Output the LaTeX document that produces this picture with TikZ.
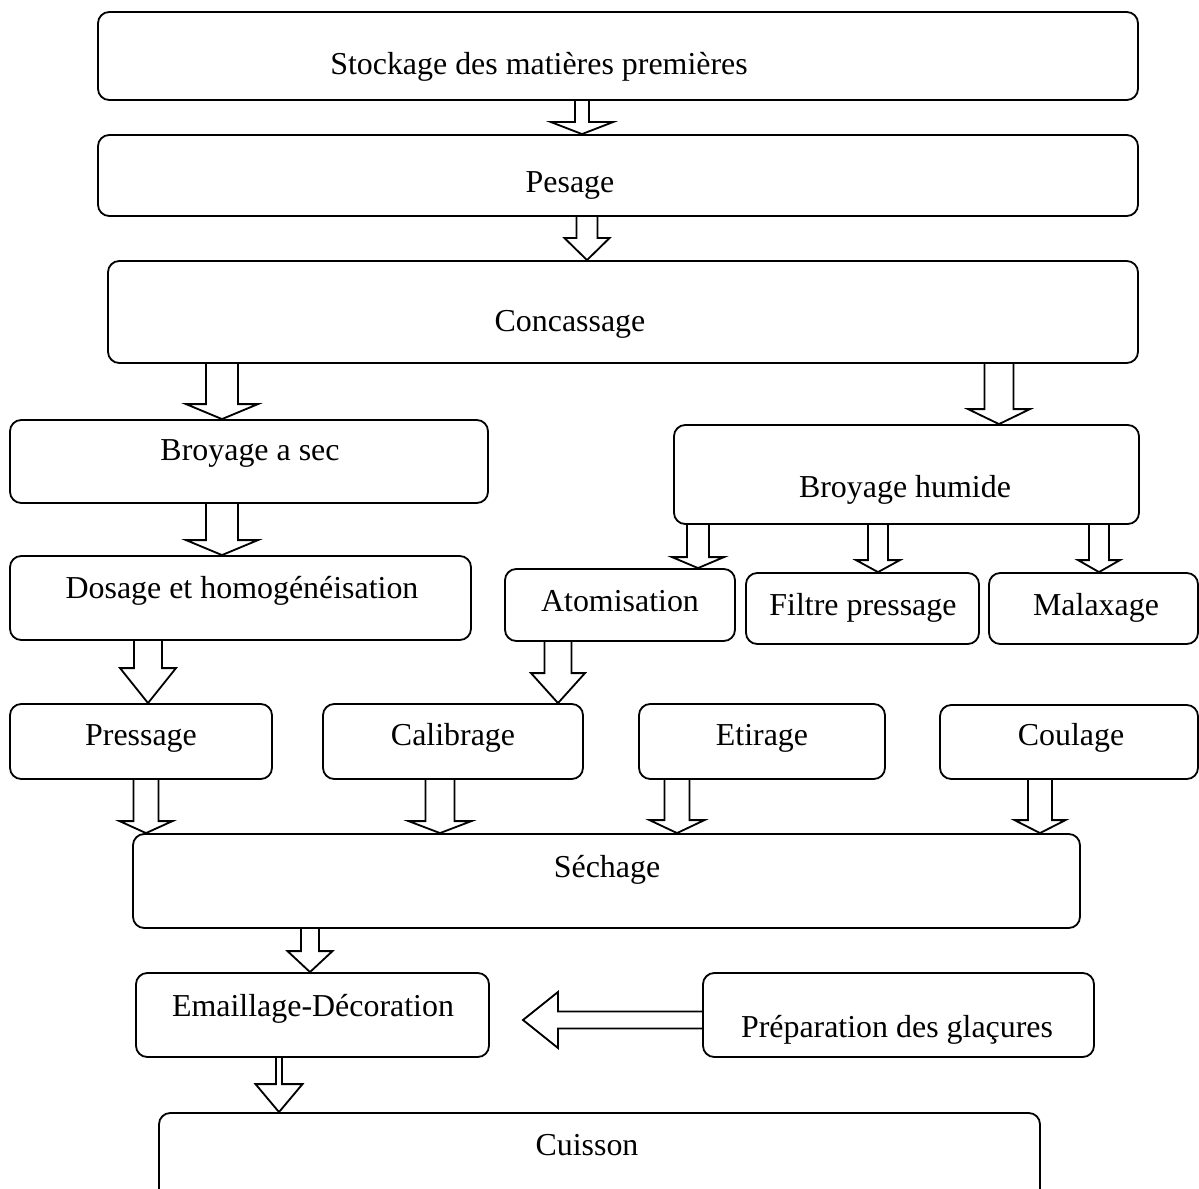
\documentclass[tikz,border=0pt]{standalone}
\usepackage{fontspec}
\setmainfont{Liberation Serif}
\usetikzlibrary{fit, calc}

\begin{document}
\begin{tikzpicture}[
  x=0.025cm, y=-0.025cm,
  font=\fontsize{22.7}{27}\selectfont,
  box/.style = {draw, rounded corners=8pt, line width=1.3pt, inner sep=0pt},
  lbl/.style = {anchor=base, inner sep=0pt},
  blk/.style = {draw, line width=1.3pt, line join=miter},
]
\useasboundingbox (0,0) rectangle (1199,1189);

% ── Boxes ─────────────────────────────────────────────────────────────────────
\node[box, fit={(98,12)   (1138,100)}]  (stock) {};
\node[box, fit={(98,135)  (1138,216)}]  (pes)   {};
\node[box, fit={(108,261) (1138,363)}]  (conc)  {};
\node[box, fit={(10,420)  (488,503)}]   (bsec)  {};
\node[box, fit={(674,425) (1139,524)}]  (bhum)  {};
\node[box, fit={(10,556)  (471,640)}]   (dos)   {};
\node[box, fit={(505,569) (735,641)}]   (atom)  {};
\node[box, fit={(746,573) (979,644)}]   (filt)  {};
\node[box, fit={(989,573) (1198,644)}]  (malax) {};
\node[box, fit={(10,704)  (272,779)}]   (press) {};
\node[box, fit={(323,704) (583,779)}]   (calib) {};
\node[box, fit={(639,704) (885,779)}]   (etir)  {};
\node[box, fit={(940,705) (1198,779)}]  (coul)  {};
\node[box, fit={(133,834) (1080,928)}]  (sech)  {};
\node[box, fit={(136,973) (489,1057)}]  (emai)  {};
\node[box, fit={(703,973) (1094,1057)}] (prep)  {};
\node[box, fit={(159,1113) (1040,1205)}] (cuis) {};

% ── Labels ────────────────────────────────────────────────────────────────────
\node[lbl] (stock-l) at (539,75)   {Stockage des matières premières};
\node[lbl] (pes-l)   at (570,193)  {Pesage};
\node[lbl] (conc-l)  at (570,331)  {Concassage};
\node[lbl] (bsec-l)  at (250,460)  {Broyage a sec};
\node[lbl] (bhum-l)  at (905,497)  {Broyage humide};
\node[lbl] (dos-l)   at (242,598)  {Dosage et homogénéisation};
\node[lbl] (atom-l)  at (620,611)  {Atomisation};
\node[lbl] (filt-l)  at (863,615)  {Filtre pressage};
\node[lbl] (malax-l) at (1096,615) {Malaxage};
\node[lbl] (press-l) at (141,745)  {Pressage};
\node[lbl] (calib-l) at (453,745)  {Calibrage};
\node[lbl] (etir-l)  at (762,745)  {Etirage};
\node[lbl] (coul-l)  at (1071,745) {Coulage};
\node[lbl] (sech-l)  at (607,877)  {Séchage};
\node[lbl] (emai-l)  at (313,1016) {Emaillage-Décoration};
\node[lbl] (prep-l)  at (897,1037) {Préparation des glaçures};
\node[lbl] (cuis-l)  at (587,1155) {Cuisson};

% ── Block arrows (down) ───────────────────────────────────────────────────────
\foreach \x/\a/\b/\w/\h/\l in {582/stock/pes/7/31/12, 587/pes/conc/10.5/22.5/22,
    222/conc/bsec/16/36/15, 999/conc/bhum/14.5/31/15, 222/bsec/dos/16/36/15,
    698/bhum/atom/11/26/11, 878/bhum/filt/10/22/12, 1099/bhum/malax/10/21/12,
    558/atom/calib/13.5/27/30, 148/dos/press/14/28/35,
    146/press/sech/12.5/26.5/12, 440/calib/sech/14.5/31.5/12,
    677/etir/sech/12.5/27.5/13, 1040/coul/sech/12/25.5/13,
    310/sech/emai/9/22.5/21, 279/emai/cuis/3/23.5/28}{
  \coordinate (s) at (\x,0 |- \a.south);
  \coordinate (t) at (\x,0 |- \b.north);
  \draw[blk] ($(s)+(-\w,0)$) -- ($(t)+(-\w,-\l)$) -- ($(t)+(-\h,-\l)$) -- (t)
    -- ($(t)+(\h,-\l)$) -- ($(t)+(\w,-\l)$) -- ($(s)+(\w,0)$);
}

% ── Glaze arrow (left) ────────────────────────────────────────────────────────
\coordinate (gl-tip) at (523,1020);
\coordinate (gl-src) at (prep.west |- gl-tip);
\draw[blk] ($(gl-src)+(0,-8.5)$) -- ($(gl-tip)+(35,-8.5)$) -- ($(gl-tip)+(35,-28)$)
  -- (gl-tip) -- ($(gl-tip)+(35,28)$) -- ($(gl-tip)+(35,8.5)$) -- ($(gl-src)+(0,8.5)$);

\end{tikzpicture}
\end{document}
